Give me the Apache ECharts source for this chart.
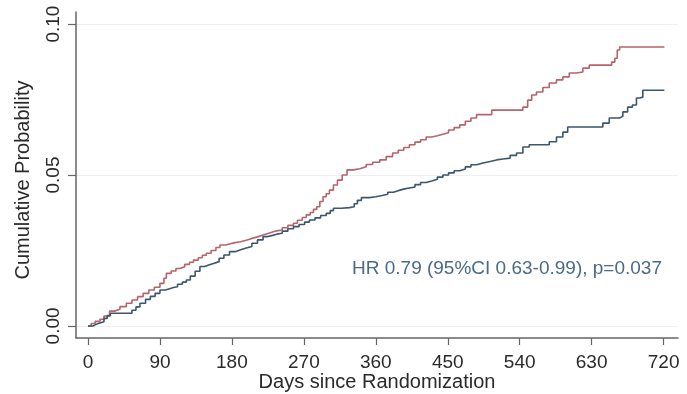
<!DOCTYPE html>
<html>
<head>
<meta charset="utf-8">
<script src="https://cdn.jsdelivr.net/npm/echarts@6/dist/echarts.min.js"></script>
<style>
  html, body { margin: 0; padding: 0; background: #fff; }
  #chart { width: 687px; height: 394px; }
</style>
</head>
<body>
<div id="chart"></div>
<script>
// Tick positions
const xTicks = [0, 90, 180, 270, 360, 450, 540, 630, 720];
const yTicks = [0, 0.05, 0.10];

// Kaplan-Meier cumulative incidence, [day, probability] at each step
const controlCurve = [
  [0,0],[4,0.0008],[9,0.0015],[15,0.0022],[20,0.0033],[27,0.0049],[33,0.0055],[40,0.0064],
  [48,0.0075],[55,0.0086],[62,0.0097],[69,0.0108],[76,0.0119],[83,0.0128],[90,0.0141],
  [95,0.0158],[98,0.0174],[104,0.0182],[110,0.019],[115,0.0196],[121,0.0204],[127,0.0211],
  [132,0.0218],[138,0.0226],[143,0.0234],[148,0.0241],[154,0.025],[160,0.026],[165,0.0268],
  [172,0.0272],[178,0.0276],[184,0.0279],[191,0.0284],[198,0.029],[205,0.0295],[212,0.0301],
  [219,0.0307],[226,0.0311],[231,0.0315],[236,0.0318],[243,0.0325],[250,0.0333],[257,0.034],
  [262,0.035],[268,0.0359],[273,0.0368],[278,0.0376],[282,0.0386],[286,0.0395],[290,0.0412],
  [294,0.0428],[298,0.0438],[302,0.045],[307,0.0467],[312,0.0483],[318,0.05],[324,0.0517],
  [332,0.0521],[340,0.0527],[348,0.0535],[356,0.0542],[365,0.055],[373,0.0561],[381,0.0573],
  [388,0.0582],[395,0.0591],[402,0.06],[409,0.0609],[416,0.0617],[423,0.0626],[430,0.063],
  [437,0.0635],[444,0.064],[451,0.0649],[458,0.0657],[465,0.0666],[472,0.0678],[479,0.0689],
  [486,0.07],[505,0.0715],[544,0.0725],[550,0.0748],[555,0.0765],[561,0.0775],[569,0.079],
  [577,0.0805],[586,0.0815],[594,0.0825],[602,0.0838],[611,0.0841],[619,0.0854],[627,0.0864],
  [655,0.0874],[659,0.0887],[662,0.0914],[665,0.0924],[721,0.0924]
];

const treatedCurve = [
  [0,0],[6,0.0006],[11,0.001],[15,0.0014],[20,0.0025],[24,0.0034],[28,0.0042],[50,0.0042],
  [55,0.0052],[60,0.0063],[65,0.0075],[72,0.0088],[78,0.0098],[84,0.0108],[90,0.0119],
  [97,0.0123],[102,0.0127],[107,0.013],[112,0.0138],[118,0.0145],[123,0.0152],[128,0.0165],
  [134,0.0181],[140,0.0197],[146,0.0202],[151,0.0207],[157,0.0213],[164,0.0224],[170,0.0235],
  [177,0.0246],[184,0.0252],[191,0.0258],[198,0.0263],[205,0.0274],[212,0.0285],[219,0.0296],
  [225,0.03],[231,0.0304],[236,0.0307],[243,0.0314],[250,0.0322],[257,0.0329],[264,0.0336],
  [271,0.0344],[277,0.0351],[284,0.0358],[291,0.0366],[298,0.0373],[303,0.0382],[307,0.039],
  [317,0.0392],[327,0.0395],[333,0.0405],[337,0.0416],[342,0.0425],[352,0.0428],[360,0.0432],
  [368,0.0436],[375,0.0443],[382,0.0449],[389,0.0454],[396,0.0457],[402,0.046],[409,0.0468],
  [416,0.0475],[423,0.048],[430,0.0486],[437,0.0493],[444,0.05],[451,0.0507],[458,0.0514],
  [465,0.052],[472,0.0527],[479,0.0534],[486,0.054],[494,0.0545],[503,0.055],[511,0.0553],
  [519,0.0556],[528,0.0565],[536,0.0573],[544,0.0593],[552,0.06],[577,0.061],[586,0.0626],
  [594,0.0642],[600,0.0659],[644,0.0672],[652,0.0689],[665,0.0695],[669,0.0709],[675,0.0725],
  [681,0.0732],[686,0.0755],[690,0.0758],[694,0.0781],[721,0.0781]
];

const statText = 'HR 0.79 (95%CI 0.63-0.99), p=0.037';
const xTitle = 'Days since Randomization';
const yTitle = 'Cumulative Probability';

const FONT = '"Liberation Sans", Arial, Helvetica, sans-serif';
const chart = echarts.init(document.getElementById('chart'));

chart.setOption({
  animation: false,
  backgroundColor: '#ffffff',
  grid: { left: 76, right: 9, top: 12, bottom: 56, outerBoundsMode: 'none', containLabel: false },
  xAxis: {
    type: 'value',
    min: -15,
    max: 738,
    name: xTitle,
    nameLocation: 'middle',
    nameGap: 34,
    nameMoveOverlap: false,
    nameTextStyle: { fontFamily: FONT, fontSize: 20, color: '#2a2a2a' },
    axisLine: { show: true, onZero: false, lineStyle: { color: '#666', width: 1.5 } },
    axisTick: { show: true, length: 7, customValues: xTicks, lineStyle: { color: '#666', width: 1.2 } },
    axisLabel: { customValues: xTicks, fontFamily: FONT, fontSize: 19, color: '#2a2a2a', margin: 15 },
    splitLine: { show: false }
  },
  yAxis: {
    type: 'value',
    min: -0.004,
    max: 0.104,
    axisLine: { show: true, onZero: false, lineStyle: { color: '#666', width: 1.5 } },
    axisTick: { show: true, length: 8, customValues: yTicks, lineStyle: { color: '#666', width: 1.2 } },
    axisLabel: {
      customValues: yTicks, rotate: 90, fontFamily: FONT, fontSize: 19, color: '#2a2a2a', margin: 13,
      formatter: v => v.toFixed(2)
    },
    splitLine: { show: true, lineStyle: { color: '#eeeeee', width: 1.2 } }
  },
  graphic: [
    {
      type: 'text', x: 23, y: 180, rotation: Math.PI / 2,
      style: { text: yTitle, font: '20px ' + FONT, fill: '#2a2a2a', textAlign: 'center', textVerticalAlign: 'middle' }
    },
    {
      type: 'text', x: 352, y: 269,
      style: { text: statText, font: '19px ' + FONT, fill: '#4b6a88', textAlign: 'left', textVerticalAlign: 'middle' }
    }
  ],
  series: [
    {
      type: 'line', name: 'Control', data: controlCurve, step: 'end', showSymbol: false,
      lineStyle: { color: '#b5646b', width: 1.6 }, z: 3
    },
    {
      type: 'line', name: 'Treated', data: treatedCurve, step: 'end', showSymbol: false,
      lineStyle: { color: '#3b566e', width: 1.6 }, z: 4
    }
  ]
});
</script>
</body>
</html>
